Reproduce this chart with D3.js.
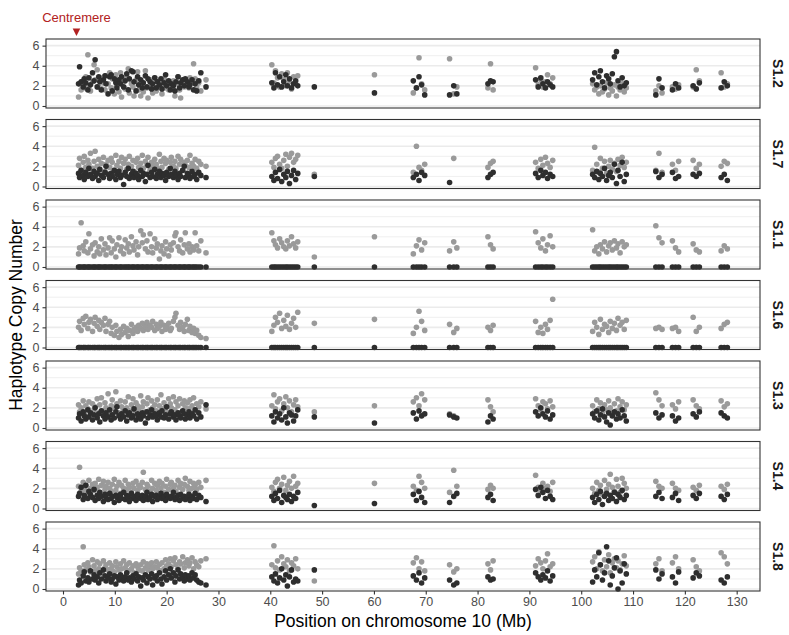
<!DOCTYPE html>
<html>
<head>
<meta charset="utf-8">
<script src="https://cdn.jsdelivr.net/npm/d3@7"></script>
<style>
  body { margin: 0; background: #fff; }
  text { font-family: "Liberation Sans", Arial, Helvetica, sans-serif; }
</style>
</head>
<body>
<svg id="chart" width="789" height="635"></svg>
<script>
// facet labels, top to bottom
const samples = ['S1.2', 'S1.7', 'S1.1', 'S1.6', 'S1.3', 'S1.4', 'S1.8'];

const xTicks = [0, 10, 20, 30, 40, 50, 60, 70, 80, 90, 100, 110, 120, 130];
const yTicks = [0, 2, 4, 6];
const yMinor = [1, 3, 5];
const centromere = 2.6;

// marker positions on chromosome 10 (Mb)
const positions = [
  3.0, 3.2, 3.5, 3.9, 4.1, 4.4, 4.8, 5.0, 5.3, 5.7,
  6.0, 6.2, 6.6, 6.9, 7.1, 7.4, 7.8, 8.1, 8.3, 8.7,
  9.0, 9.3, 9.5, 9.9, 10.2, 10.4, 10.8, 11.1, 11.3, 11.7,
  12.0, 12.3, 12.6, 12.8, 13.2, 13.5, 13.7, 14.1, 14.4, 14.6,
  15.0, 15.3, 15.5, 15.9, 16.2, 16.4, 16.8, 17.1, 17.3, 17.7,
  18.0, 18.2, 18.6, 18.9, 19.1, 19.5, 19.8, 20.0, 20.4, 20.7,
  20.9, 21.3, 21.6, 21.8, 22.2, 22.5, 22.7, 23.1, 23.4, 23.6,
  24.0, 24.3, 24.5, 24.9, 25.2, 25.5, 25.8, 26.2, 26.6, 27.6,
  40.3, 40.7, 41.0, 41.4, 41.8, 42.2, 42.6, 43.0, 43.3, 43.7, 44.1, 44.5, 44.9, 45.3,
  48.5, 60.1,
  67.6, 68.2, 68.7, 69.2, 69.8, 74.6, 75.4, 76.0, 82.0, 82.5, 83.0,
  91.2, 91.7, 92.2, 92.6, 93.1, 93.5, 94.0, 94.5,
  102.2, 102.6, 103.0, 103.4, 103.7, 104.1, 104.5, 104.9, 105.3, 105.6, 106.0, 106.4, 106.8, 107.1, 107.5, 107.9, 108.3, 108.7,
  114.4, 115.0, 115.6, 117.6, 118.2, 118.8, 121.6, 122.2, 122.8, 127.0, 127.6, 128.2
];

// copy number per haplotype (light = grey haplotype, dark = black haplotype)
const s12Light = [
  0.9, 2.2, 1.6, 2.5, 1.8, 2.9, 5.1, 2.0, 1.5, 2.4,
  4.1, 2.6, 3.6, 1.9, 2.8, 1.7, 2.3, 1.6, 3.0, 2.2,
  3.3, 1.8, 2.7, 1.2, 3.1, 2.0, 1.4, 3.3, 0.9, 2.5,
  1.7, 2.9, 3.7, 1.3, 2.2, 1.9, 1.0, 2.6, 3.4, 1.6,
  1.0, 2.3, 1.4, 3.5, 1.8, 0.8, 2.6, 2.0, 1.3, 2.8,
  1.5, 2.4, 1.9, 2.1, 1.2, 2.7, 1.8, 2.3, 1.6, 2.0,
  1.7, 2.5, 1.0, 2.2, 2.9, 1.6, 0.8, 2.4, 1.9, 2.6,
  2.1, 1.8, 2.8, 2.4, 4.2, 2.7, 1.9, 2.3, 1.5, 2.6,
  4.1, 2.3, 3.5, 2.8, 1.9, 3.2, 2.6, 2.0, 3.3, 2.4, 1.7, 2.9, 2.2, 3.0,
  null, 3.1,
  1.3, 1.8, 4.8, 2.2, 1.6, 4.7, 1.2, 1.9, 1.8, 4.2, 1.6,
  3.8, 2.1, 2.6, 1.9, 2.4, 3.1, 2.2, 2.8,
  2.2, 1.6, 1.9, 1.2, 2.0, 1.4, 1.7, 2.3, 1.1, 1.8, 1.5, 2.1, 1.0, 1.9, 1.6, 2.2, 1.4, 1.8,
  1.5, 2.0, 1.3, 1.9, 1.7, 2.1, 1.9, 3.6, 2.5, 3.3, 1.9, 2.2
];
const s12Dark = [
  2.2, 3.9, 2.4, 1.9, 2.7, 2.3, 1.6, 2.8, 2.1, 3.3,
  2.5, 4.6, 1.9, 2.9, 2.4, 1.6, 2.6, 3.0, 2.2, 1.2,
  2.9, 3.1, 1.5, 2.7, 2.3, 1.8, 2.6, 2.2, 2.9, 1.9,
  2.5, 3.2, 1.6, 2.7, 3.5, 3.4, 2.4, 1.5, 2.9, 2.1,
  2.6, 1.8, 2.3, 3.0, 1.9, 2.7, 2.4, 1.7, 2.2, 2.8,
  1.8, 2.4, 2.1, 2.7, 1.7, 2.3, 3.1, 2.0, 2.5, 1.6,
  2.2, 2.0, 1.5, 2.4, 2.9, 1.8, 2.3, 2.6, 2.0, 2.7,
  2.4, 1.9, 2.1, 2.6, 1.6, 2.2, 1.5, 2.5, 3.3, 1.9,
  2.3, 1.8, 3.3, 2.1, 2.9, 1.9, 2.4, 3.1, 2.0, 2.7, 1.8, 2.2, 2.5, 2.0,
  1.9, 1.3,
  2.5, 1.8, 2.9, 2.1, 1.1, 1.1, 2.0, 1.2, 2.2, 2.5, 2.4,
  2.6, 1.9, 2.8, 2.2, 1.8, 2.4, 2.1, 1.9,
  2.6, 3.3, 2.1, 2.9, 3.5, 2.4, 1.8, 3.0, 2.7, 2.2, 3.2, 4.9, 5.4, 2.5, 1.9, 2.8, 2.0, 2.3,
  1.1, 2.7, 1.8, 1.6, 2.2, 1.8, 2.0, 1.7, 2.3, 1.8, 2.4, 2.0
];

const s17Light = [
  2.1, 2.8, 1.6, 2.4, 3.0, 1.9, 2.6, 2.2, 3.3, 1.8,
  2.5, 3.5, 2.0, 2.7, 1.7, 2.3, 2.9, 1.5, 2.2, 2.6,
  1.9, 2.8, 2.4, 1.6, 3.1, 2.1, 2.5, 1.8, 2.9, 2.3,
  2.7, 1.7, 2.2, 3.0, 2.0, 2.6, 1.5, 2.4, 2.8, 1.9,
  2.3, 3.1, 1.8, 2.5, 2.1, 2.9, 1.6, 2.4, 2.0, 2.7,
  2.2, 1.8, 3.2, 2.5, 1.9, 2.8, 2.3, 2.6, 1.7, 2.4,
  2.9, 2.0, 2.5, 1.8, 3.0, 2.2, 2.7, 1.6, 2.4, 2.1,
  2.6, 1.9, 3.1, 2.3, 2.0, 2.7, 1.8, 2.5, 2.2, 2.0,
  2.4, 1.9, 2.8, 3.0, 2.2, 1.8, 2.6, 3.2, 2.0, 2.9, 3.3, 2.4, 2.7, 3.1,
  1.2, null,
  1.4, 4.0, 1.9, 1.6, 2.2, null, 2.8, null, 1.9, 2.3, 2.5,
  2.4, 1.8, 2.7, 2.1, 2.9, 2.3, 1.9, 2.6,
  1.6, 3.9, 2.2, 1.4, 2.8, 1.8, 2.5, 1.3, 2.0, 2.6, 1.7, 2.3, 1.5, 2.7, 2.1, 2.9, 1.9, 2.4,
  1.6, 3.3, 1.4, 2.2, 1.6, 2.5, 2.6, 1.8, 2.2, 2.0, 2.5, 2.3
];
const s17Dark = [
  1.3, 0.9, 1.6, 1.1, 0.7, 1.4, 1.0, 1.8, 1.2, 0.8,
  1.5, 1.0, 1.3, 0.6, 1.7, 1.1, 0.9, 1.4, 2.0, 1.2,
  0.8, 1.3, 1.0, 1.6, 0.7, 1.2, 1.5, 0.9, 1.1, 0.2,
  1.4, 1.0, 1.8, 0.8, 1.2, 1.5, 0.9, 1.3, 1.1, 0.7,
  1.6, 1.0, 1.3, 0.5, 1.2, 2.1, 0.9, 1.4, 1.0, 1.7,
  0.8, 1.2, 1.5, 0.9, 1.3, 1.1, 0.6, 1.4, 1.0, 1.8,
  1.2, 0.9, 1.5, 1.1, 0.7, 1.3, 1.0, 1.6, 2.0, 0.9,
  1.3, 1.1, 0.8, 1.5, 1.0, 1.2, 0.7, 1.4, 1.1, 0.9,
  1.0, 0.6, 1.4, 0.8, 1.7, 0.5, 1.2, 0.9, 1.5, 0.3, 1.1, 1.6, 0.7, 1.3,
  1.0, null,
  0.9, 1.2, 0.6, 1.4, 1.1, 0.4, null, null, 0.9, 1.2, 1.4,
  1.3, 0.9, 1.6, 1.1, 1.4, 0.8, 1.2, 1.0,
  1.2, 0.9, 1.5, 0.7, 1.3, 1.0, 1.8, 0.6, 1.1, 1.4, 0.9, 2.2, 0.3, 1.6, 1.0, 2.4, 0.5, 1.2,
  1.5, 0.9, 1.2, 1.4, 0.8, 1.0, 1.2, 1.0, 1.3, 0.9, 1.2, 0.6
];

const s11Light = [
  1.3, 1.9, 4.4, 2.1, 1.6, 2.5, 1.4, 3.3, 1.8, 2.2,
  1.1, 2.4, 1.5, 2.0, 1.3, 2.8, 1.7, 2.3, 1.2, 1.9,
  2.9, 1.4, 2.6, 1.8, 1.0, 2.2, 2.9, 1.6, 2.0, 1.3,
  2.7, 1.9, 2.3, 1.5, 3.0, 2.1, 1.7, 2.5, 1.2, 2.0,
  3.6, 2.4, 3.2, 1.8, 2.6, 1.5, 3.3, 2.0, 1.4, 2.8,
  1.9, 2.3, 0.8, 1.6, 2.1, 1.3, 2.5, 1.8, 1.1, 2.2,
  1.7, 2.4, 3.1, 3.4, 2.0, 1.6, 2.7, 1.4, 2.2, 3.4,
  1.8, 2.3, 1.5, 2.0, 1.7, 3.4, 2.1, 1.6, 2.6, 1.4,
  3.4, 2.6, 2.2, 1.9, 2.8, 2.4, 2.0, 1.8, 2.6, 2.1, 3.0, 2.3, 1.9, 2.5,
  1.0, 3.0,
  1.3, 2.1, 2.7, 1.7, 2.4, 1.6, 2.5, 1.9, 3.0, 2.2, 1.8,
  3.5, 2.4, 1.9, 2.8, 1.6, 2.2, 3.1, 2.0,
  3.7, 1.6, 2.0, 1.3, 2.2, 1.8, 2.5, 1.5, 2.1, 2.4, 1.7, 2.6, 1.9, 2.3, 1.4, 2.5, 2.0, 2.2,
  4.1, 2.9, 2.4, 2.6, 1.9, 1.5, 2.3, 1.7, 1.5, 1.6, 2.1, 1.8
];
const s11Dark = [
  0, 0, 0, 0, 0, 0, 0, 0, 0, 0,
  0, 0, 0, 0, 0, 0, 0, 0, 0, 0,
  0, 0, 0, 0, 0, 0, 0, 0, 0, 0,
  0, 0, 0, 0, 0, 0, 0, 0, 0, 0,
  0, 0, 0, 0, 0, 0, 0, 0, 0, 0,
  0, 0, 0, 0, 0, 0, 0, 0, 0, 0,
  0, 0, 0, 0, 0, 0, 0, 0, 0, 0,
  0, 0, 0, 0, 0, 0, 0, 0, 0, 0,
  0, 0, 0, 0, 0, 0, 0, 0, 0, 0, 0, 0, 0, 0,
  0, 0,
  0, 0, 0, 0, 0, 0, 0, 0, 0, 0, 0,
  0, 0, 0, 0, 0, 0, 0, 0,
  0, 0, 0, 0, 0, 0, 0, 0, 0, 0, 0, 0, 0, 0, 0, 0, 0, 0,
  0, 0, 0, 0, 0, 0, 0, 0, 0, 0, 0, 0
];

const s16Light = [
  2.0, 2.6, 1.7, 2.9, 2.3, 3.1, 1.9, 2.5, 2.8, 1.6,
  2.4, 3.0, 2.1, 2.7, 1.8, 2.5, 2.2, 2.9, 1.6, 2.3,
  2.6, 1.4, 2.0, 1.2, 2.2, 1.6, 1.0, 1.8, 1.3, 2.1,
  1.5, 1.9, 1.1, 1.7, 2.3, 1.4, 1.8, 2.0, 1.6, 2.2,
  1.9, 2.4, 1.7, 2.1, 2.5, 1.8, 2.2, 2.0, 2.6, 1.7,
  2.3, 1.9, 2.1, 2.5, 1.6, 2.2, 1.8, 2.0, 2.4, 1.7,
  1.9, 2.6, 3.0, 3.4, 2.2, 1.8, 2.5, 2.0, 1.6, 2.3,
  2.8, 1.7, 2.1, 1.5, 1.9, 1.4, 1.7, 1.2, 1.0, 0.9,
  1.6, 2.2, 3.0, 2.5, 3.4, 1.9, 2.7, 2.1, 3.2, 1.8, 2.4, 2.9, 2.0, 3.5,
  2.4, 2.8,
  1.4, 2.0, 3.6, 2.6, 1.7, 2.3, 1.5, 1.9, 2.0, 1.7, 2.2,
  2.6, 1.5, 2.0, 1.4, 2.3, 1.8, 2.7, 4.8,
  1.6, 2.5, 2.0, 1.3, 2.8, 1.8, 2.3, 2.1, 1.5, 2.6, 1.9, 2.4, 1.7, 2.9, 2.2, 2.5, 1.8, 2.7,
  1.9, 2.0, 1.8, 1.9, 2.0, 1.6, 3.0, 1.6, 2.0, 1.9, 2.3, 2.5
];
const s16Dark = [
  0, 0, 0, 0, 0, 0, 0, 0, 0, 0,
  0, 0, 0, 0, 0, 0, 0, 0, 0, 0,
  0, 0, 0, 0, 0, 0, 0, 0, 0, 0,
  0, 0, 0, 0, 0, 0, 0, 0, 0, 0,
  0, 0, 0, 0, 0, 0, 0, 0, 0, 0,
  0, 0, 0, 0, 0, 0, 0, 0, 0, 0,
  0, 0, 0, 0, 0, 0, 0, 0, 0, 0,
  0, 0, 0, 0, 0, 0, 0, 0, 0, 0,
  0, 0, 0, 0, 0, 0, 0, 0, 0, 0, 0, 0, 0, 0,
  0, 0,
  0, 0, 0, 0, 0, 0, 0, 0, 0, 0, 0,
  0, 0, 0, 0, 0, 0, 0, 0,
  0, 0, 0, 0, 0, 0, 0, 0, 0, 0, 0, 0, 0, 0, 0, 0, 0, 0,
  0, 0, 0, 0, 0, 0, 0, 0, 0, 0, 0, 0
];

const s13Light = [
  2.3, 1.6, 2.0, 2.7, 1.4, 2.2, 1.9, 2.6, 1.3, 2.4,
  1.8, 2.1, 2.9, 1.5, 2.3, 3.0, 1.7, 2.5, 2.0, 3.4,
  1.6, 2.2, 2.8, 1.9, 3.6, 2.4, 1.5, 2.7, 2.1, 1.8,
  2.6, 2.0, 3.1, 1.7, 2.3, 2.9, 1.4, 2.5, 2.2, 1.9,
  3.2, 2.1, 2.6, 1.6, 2.4, 3.0, 1.8, 2.7, 2.0, 2.3,
  1.7, 2.8, 2.2, 3.3, 1.9, 2.5, 2.1, 1.6, 2.9, 2.4,
  2.0, 3.1, 1.8, 2.6, 2.2, 2.9, 1.5, 2.4, 2.7, 2.0,
  2.5, 1.9, 2.8, 2.2, 3.0, 1.7, 2.4, 2.1, 2.6, 1.9,
  2.2, 3.3, 1.9, 2.6, 2.9, 1.7, 2.4, 3.1, 2.0, 2.7, 1.6, 2.3, 2.8, 2.1,
  1.6, 2.2,
  2.6, 3.0, 2.2, 3.4, 2.8, 1.4, 1.2, null, 2.8, 2.1, 1.6,
  2.9, 2.2, 1.8, 2.6, 2.4, 1.9, 2.7, 2.1,
  2.2, 1.6, 2.8, 1.9, 2.5, 1.4, 2.3, 1.8, 2.7, 2.0, 1.5, 2.4, 1.7, 2.9, 2.1, 2.6, 1.8, 2.3,
  3.5, 2.8, 2.2, 2.3, 1.9, 2.6, 2.8, 2.2, 1.9, 2.7, 2.1, 2.4
];
const s13Dark = [
  1.0, 1.4, 0.7, 1.6, 1.2, 0.9, 1.8, 1.1, 1.5, 0.8,
  1.3, 2.0, 1.0, 1.4, 0.6, 1.7, 1.2, 0.9, 1.5, 1.1,
  1.8, 0.8, 1.3, 1.0, 1.6, 2.1, 1.2, 0.9, 1.4, 1.1,
  1.7, 0.7, 1.3, 1.5, 1.0, 1.2, 1.9, 0.8, 1.4, 1.1,
  0.9, 1.5, 1.2, 0.5, 1.6, 1.0, 1.3, 1.8, 1.1, 1.4,
  1.2, 0.8, 1.5, 1.1, 1.7, 1.0, 1.3, 2.1, 0.9, 1.4,
  1.6, 1.1, 1.3, 0.8, 1.5, 1.2, 1.0, 1.7, 1.4, 0.9,
  1.3, 1.6, 1.0, 1.4, 1.2, 1.8, 0.9, 1.5, 1.1, 2.3,
  1.2, 0.6, 1.6, 1.0, 1.4, 0.8, 2.0, 1.1, 0.5, 1.5, 1.3, 0.7, 1.2, 1.8,
  1.1, 0.5,
  1.5, 0.9, 1.7, 1.2, 1.4, 1.3, 1.1, 1.0, 0.6, 1.2, 0.9,
  1.6, 1.2, 2.0, 1.4, 1.1, 1.7, 0.9, 1.3,
  1.4, 1.0, 1.7, 0.8, 1.3, 1.9, 1.1, 0.6, 1.5, 0.3, 1.2, 1.6, 0.9, 1.4, 1.0, 1.8, 1.2, 0.7,
  1.5, 1.0, 1.3, 1.2, 0.7, 1.0, 1.4, 1.1, 1.6, 1.5, 1.2, 1.0
];

const s14Light = [
  2.2, 4.1, 1.7, 2.6, 1.9, 2.3, 1.5, 2.8, 2.0, 2.4,
  1.8, 2.5, 2.1, 2.9, 1.6, 2.3, 2.7, 1.9, 2.2, 2.6,
  2.0, 1.7, 2.4, 2.9, 1.8, 2.2, 2.6, 1.5, 2.3, 2.0,
  2.8, 1.9, 2.4, 2.1, 1.6, 2.5, 2.0, 2.7, 1.8, 2.3,
  2.1, 2.6, 3.6, 1.9, 2.4, 2.2, 1.7, 2.8, 2.0, 2.5,
  1.8, 2.3, 2.7, 2.0, 2.5, 1.6, 2.2, 2.9, 1.9, 2.4,
  2.6, 2.0, 2.3, 1.7, 2.8, 2.1, 2.5, 1.9, 2.4, 3.0,
  2.2, 1.8, 2.7, 2.0, 2.5, 2.3, 1.9, 2.6, 2.1, 2.8,
  2.1, 1.7, 2.6, 2.9, 2.0, 2.4, 3.1, 1.8, 2.3, 2.7, 2.0, 3.2, 2.2, 2.5,
  null, 2.5,
  2.2, 1.8, 3.2, 2.6, 2.0, 1.6, 3.8, 2.2, 1.9, 2.3, 2.0,
  3.3, 2.1, 1.8, 2.5, 2.0, 2.2, 1.7, 2.6,
  2.0, 1.5, 2.6, 1.8, 2.3, 1.4, 2.8, 1.9, 2.4, 3.4, 2.1, 1.7, 2.9, 2.2, 1.6, 3.0, 2.5, 2.0,
  2.7, 2.2, 2.0, 2.5, 2.0, 1.8, 2.1, 1.8, 2.3, 2.2, 1.9, 2.4
];
const s14Dark = [
  1.2, 1.5, 2.1, 0.9, 1.3, 2.3, 1.0, 1.7, 1.4, 1.1,
  1.9, 0.8, 1.3, 1.0, 1.6, 1.2, 0.7, 1.4, 1.1, 0.9,
  1.5, 1.0, 1.2, 0.6, 1.3, 1.1, 0.8, 1.4, 1.0, 1.6,
  0.9, 1.3, 1.1, 0.7, 1.5, 1.0, 1.2, 0.8, 1.4, 1.1,
  1.0, 1.3, 0.8, 1.2, 1.6, 0.9, 1.1, 1.4, 0.7, 1.2,
  1.3, 0.9, 1.1, 1.5, 1.0, 1.2, 0.8, 1.4, 1.1, 1.0,
  1.2, 1.6, 0.9, 1.1, 1.3, 0.8, 1.4, 1.0, 1.2, 0.9,
  1.1, 1.4, 0.8, 1.2, 1.0, 1.5, 0.9, 1.3, 1.1, 0.7,
  1.2, 0.8, 1.5, 1.0, 1.8, 0.6, 1.3, 1.1, 0.9, 1.4, 0.7, 1.2, 1.0, 1.6,
  0.3, 0.5,
  1.4, 0.8, 1.7, 1.1, 0.6, 0.6, 1.2, 1.5, 1.1, 1.4, 0.8,
  1.9, 1.3, 2.1, 1.6, 1.0, 1.8, 1.2, 0.9,
  1.1, 0.6, 1.4, 0.9, 1.7, 0.4, 1.2, 1.5, 0.8, 1.3, 1.0, 1.6, 0.7, 1.4, 1.1, 1.8, 0.9, 1.3,
  1.2, 1.6, 1.0, 1.1, 1.5, 0.8, 1.3, 1.0, 1.5, 1.2, 0.9, 1.4
];

const s18Light = [
  1.5, 2.1, 1.8, 4.2, 2.4, 1.9, 2.6, 2.2, 1.7, 2.9,
  2.3, 1.8, 2.7, 2.0, 2.5, 1.6, 2.8, 2.1, 2.4, 1.9,
  2.6, 2.0, 2.3, 1.7, 2.7, 2.2, 1.9, 2.5, 2.0, 2.8,
  2.1, 2.4, 1.8, 2.6, 2.0, 2.3, 1.6, 2.5, 2.2, 1.9,
  2.4, 1.8, 2.7, 2.1, 2.5, 1.9, 2.3, 2.6, 2.0, 2.2,
  2.7, 2.1, 2.4, 1.8, 2.6, 2.0, 2.9, 2.3, 2.5, 3.0,
  2.2, 2.8, 3.1, 2.4, 2.0, 2.7, 2.5, 3.2, 2.1, 2.6,
  2.9, 2.3, 2.6, 3.1, 2.0, 2.7, 2.4, 2.2, 2.8, 3.0,
  2.4, 4.3, 2.1, 2.8, 1.9, 3.2, 2.5, 2.2, 2.9, 1.8, 2.6, 2.3, 3.0, 2.0,
  0.8, null,
  2.6, 3.1, 2.0, 2.7, 1.8, 2.4, 1.7, 2.0, 2.5, 1.9, 2.8,
  2.3, 3.0, 2.6, 2.0, 2.8, 3.5, 2.2, 2.5,
  2.7, 3.2, 2.0, 3.7, 2.4, 1.8, 2.9, 2.2, 3.4, 1.6, 2.6, 3.0, 2.1, 2.8, 1.9, 2.5, 3.3, 2.3,
  2.5, 3.0, 1.8, 2.6, 3.2, 2.0, 2.9, 2.2, 1.8, 3.6, 3.2, 2.5
];
const s18Dark = [
  0.4, 0.9, 0.6, 1.3, 1.7, 0.8, 1.1, 0.7, 1.8, 1.0,
  1.4, 0.9, 1.2, 0.6, 1.6, 1.0, 1.9, 1.3, 0.8, 1.1,
  1.5, 0.7, 1.0, 1.3, 0.5, 1.2, 0.9, 1.4, 1.1, 0.8,
  1.2, 1.6, 0.9, 1.1, 0.7, 1.3, 1.0, 1.5, 0.8, 1.2,
  0.3, 1.1, 0.9, 1.4, 0.6, 1.2, 1.0, 1.5, 0.4, 1.1,
  1.3, 0.8, 1.6, 1.0, 0.5, 1.2, 1.8, 0.9, 1.4, 2.0,
  1.1, 1.6, 0.7, 1.3, 1.9, 1.0, 1.5, 1.2, 0.8, 1.4,
  1.0, 1.3, 0.9, 1.6, 1.1, 1.4, 0.9, 0.7, 0.6, 0.4,
  1.2, 0.8, 1.5, 0.6, 1.1, 2.0, 0.9, 1.4, 0.3, 1.2, 1.9, 0.7, 1.0, 0.8,
  1.9, null,
  1.3, 0.9, 1.6, 0.6, 1.1, 0.9, 0.4, 0.6, 1.2, 0.9, 1.0,
  1.6, 1.2, 0.9, 1.4, 1.1, 1.8, 0.8, 1.3,
  0.7, 1.9, 1.2, 3.6, 2.4, 0.9, 1.6, 4.2, 2.8, 0.4, 1.3, 2.1, 3.1, 0.0, 1.8, 0.6, 2.5, 1.5,
  1.9, 1.0, 1.5, 1.2, 0.6, 1.7, 1.1, 1.6, 1.3, 0.9, 0.6, 1.2
];

const lightSeries = [s12Light, s17Light, s11Light, s16Light, s13Light, s14Light, s18Light];
const darkSeries = [s12Dark, s17Dark, s11Dark, s16Dark, s13Dark, s14Dark, s18Dark];

[...lightSeries, ...darkSeries].forEach((s, i) => {
  if (s.length !== positions.length) throw new Error('series ' + i + ' has ' + s.length + ' values, expected ' + positions.length);
});

const svg = d3.select('#chart');
const [left, right] = [46, 760];
const panelTop = 39, panelH = 69, panelStep = 80.5;
const lightCol = '#9a9a9a', darkCol = '#2e2e2e';

const x = d3.scaleLinear().domain([-3.28, 134.5]).range([left, right]);

samples.forEach((name, i) => {
  const top = panelTop + i * panelStep;
  const y = d3.scaleLinear().domain([-0.2, 6.66]).range([top + panelH, top]);
  const g = svg.append('g');

  // grid (horizontal only)
  g.selectAll('.minor').data(yMinor).enter().append('line')
    .attr('x1', left).attr('x2', right)
    .attr('y1', d => y(d)).attr('y2', d => y(d))
    .attr('stroke', '#ebebeb').attr('stroke-width', 0.8);
  g.selectAll('.major').data(yTicks).enter().append('line')
    .attr('x1', left).attr('x2', right)
    .attr('y1', d => y(d)).attr('y2', d => y(d))
    .attr('stroke', '#ebebeb').attr('stroke-width', 1.6);

  const pts = (vals) => positions.map((p, k) => ({x: p, y: vals[k]})).filter(d => d.y !== null);

  g.selectAll('.light').data(pts(lightSeries[i])).enter().append('circle')
    .attr('cx', d => x(d.x)).attr('cy', d => y(d.y)).attr('r', 2.8)
    .attr('fill', lightCol);
  g.selectAll('.dark').data(pts(darkSeries[i])).enter().append('circle')
    .attr('cx', d => x(d.x)).attr('cy', d => y(d.y)).attr('r', 2.8)
    .attr('fill', darkCol);

  g.append('rect')
    .attr('x', left).attr('y', top).attr('width', right - left).attr('height', panelH)
    .attr('fill', 'none').attr('stroke', '#333').attr('stroke-width', 1.1);

  const ya = g.append('g').attr('transform', `translate(${left},0)`)
    .call(d3.axisLeft(y).tickValues(yTicks).tickFormat(d3.format('d')).tickSize(3.5).tickPadding(3));
  ya.select('.domain').remove();
  ya.selectAll('line').attr('stroke', '#333').attr('stroke-width', 1.1);
  ya.selectAll('text').attr('fill', '#4d4d4d').style('font-size', '12.5px');

  // strip label
  g.append('text')
    .attr('transform', `translate(778,${top + panelH / 2}) rotate(90)`)
    .attr('text-anchor', 'middle').attr('dominant-baseline', 'central')
    .style('font-size', '14px').style('font-weight', 'bold').attr('fill', '#1a1a1a')
    .text(name);

  if (i === samples.length - 1) {
    const xa = svg.append('g').attr('transform', `translate(0,${top + panelH})`)
      .call(d3.axisBottom(x).tickValues(xTicks).tickSize(3.5).tickPadding(3));
    xa.select('.domain').remove();
    xa.selectAll('line').attr('stroke', '#333').attr('stroke-width', 1.1);
    xa.selectAll('text').attr('fill', '#4d4d4d').style('font-size', '12.5px');
  }
});

// centromere marker
const cx = x(centromere);
svg.append('text').attr('x', cx).attr('y', 21.5)
  .attr('text-anchor', 'middle').attr('fill', '#b22222')
  .style('font-size', '13px').text('Centremere');
svg.append('path')
  .attr('d', `M${cx - 3.8},28.5 L${cx + 3.8},28.5 L${cx},36 Z`)
  .attr('fill', '#b22222');

// axis titles
svg.append('text').attr('x', (left + right) / 2).attr('y', 627)
  .attr('text-anchor', 'middle').style('font-size', '17.5px').attr('fill', '#000')
  .text('Position on chromosome 10 (Mb)');
svg.append('text')
  .attr('transform', `translate(22,${panelTop + (samples.length * panelStep - (panelStep - panelH)) / 2}) rotate(-90)`)
  .attr('text-anchor', 'middle').style('font-size', '17.5px').attr('fill', '#000')
  .text('Haplotype Copy Number');
</script>
</body>
</html>
